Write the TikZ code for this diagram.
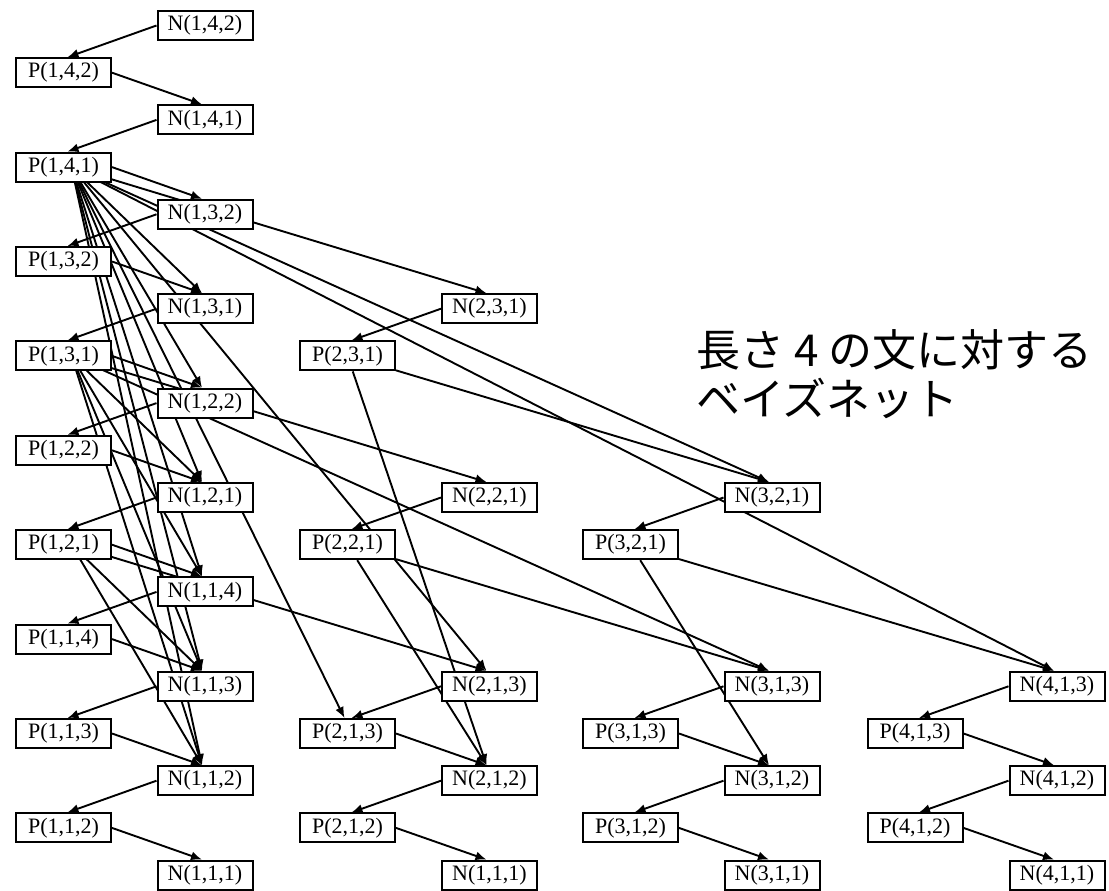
\documentclass[tikz,border=0pt]{standalone}
\usepackage{fontspec}
\setmainfont{Liberation Serif}
\newfontfamily\jpfont{Noto Sans CJK JP}
\usetikzlibrary{arrows.meta}
\pgfdeclarelayer{background}
\pgfsetlayers{background,main}
\begin{document}
\begin{tikzpicture}[x=1pt,y=-1pt,
  box/.style={draw,line width=2pt,fill=white,minimum width=95pt,minimum height=29pt,inner sep=0pt,font=\fontsize{22}{26}\selectfont},
  e/.style={line width=1.9pt,-{Latex[length=11pt,width=9pt]}},
  jp/.style={font=\jpfont\fontsize{44}{52}\selectfont,anchor=west,inner sep=0pt}]
\useasboundingbox (0,0) rectangle (1109,891);
\def\ra{25.5}\def\rb{47.2}
\foreach \nm/\L/\i/\j/\k/\c/\r in {N142/N/1/4/2/205/0,P142/P/1/4/2/63.5/1,N141/N/1/4/1/205/2,P141/P/1/4/1/63.5/3,
  N132/N/1/3/2/205/4,P132/P/1/3/2/63.5/5,N131/N/1/3/1/205/6,P131/P/1/3/1/63.5/7,
  N122/N/1/2/2/205/8,P122/P/1/2/2/63.5/9,N121/N/1/2/1/205/10,P121/P/1/2/1/63.5/11,
  N114/N/1/1/4/205/12,P114/P/1/1/4/63.5/13,N113/N/1/1/3/205/14,P113/P/1/1/3/63.5/15,
  N112/N/1/1/2/205/16,P112/P/1/1/2/63.5/17,N111/N/1/1/1/205/18,
  N231/N/2/3/1/489.5/6,P231/P/2/3/1/347.5/7,N221/N/2/2/1/489.5/10,P221/P/2/2/1/347.5/11,
  N213/N/2/1/3/489.5/14,P213/P/2/1/3/347.5/15,N212/N/2/1/2/489.5/16,P212/P/2/1/2/347.5/17,N211/N/1/1/1/489.5/18,
  N321/N/3/2/1/772/10,P321/P/3/2/1/630.5/11,N313/N/3/1/3/772/14,P313/P/3/1/3/630.5/15,
  N312/N/3/1/2/772/16,P312/P/3/1/2/630.5/17,N311/N/3/1/1/772/18,
  N413/N/4/1/3/1057/14,P413/P/4/1/3/915/15,N412/N/4/1/2/1057/16,P412/P/4/1/2/915/17,N411/N/4/1/1/1057/18}
  {\node[box] (\nm) at (\c,{\ra+\rb*\r}) {\L(\i,\j,\k)};}
\node[jp] (t1) at (696,350) {長さ 4 の文に対する};
\node[jp] (t2) at (696,398) {ベイズネット};
\begin{pgfonlayer}{background}
% chains N -> P
\foreach \a/\b in {N142/P142,N141/P141,N132/P132,N131/P131,N122/P122,N121/P121,N114/P114,N113/P113,N112/P112,
  N231/P231,N221/P221,N213/P213,N212/P212,N321/P321,N313/P313,N312/P312,N413/P413,N412/P412}
  {\draw[e] (\a.west) -- ([xshift=4pt]\b.north);}
% chains P -> N
\foreach \a/\b in {P142/N141,P141/N132,P132/N131,P131/N122,P122/N121,P121/N114,P114/N113,P113/N112,P112/N111,
  P213/N212,P212/N211,P313/N312,P312/N311,P413/N412,P412/N411}
  {\draw[e] (\a.east) -- ([xshift=-3pt]\b.north);}
% fan edges, first column
\foreach \a/\b in {P141/N131,P141/N122,P141/N121,P141/N114,P141/N113,P141/N112,P141/N231,P141/N321,P141/N413,P141/N213,
  P131/N121,P131/N114,P131/N113,P131/N112,P131/N221,P131/N313,
  P121/N113,P121/N112,P121/N213}
  {\draw[e] ([xshift=8pt]\a.center) -- ([xshift=-3pt]\b.north);}
\draw[e] ([xshift=8pt]P141.center) -- ([xshift=-3pt]P213.north);
% fan edges, other columns
\foreach \a/\b in {P231/N212,P231/N321,P221/N212,P221/N313,P321/N312,P321/N413}
  {\draw[e] (\a) -- ([xshift=-3pt]\b.north);}
\end{pgfonlayer}
\end{tikzpicture}
\end{document}
